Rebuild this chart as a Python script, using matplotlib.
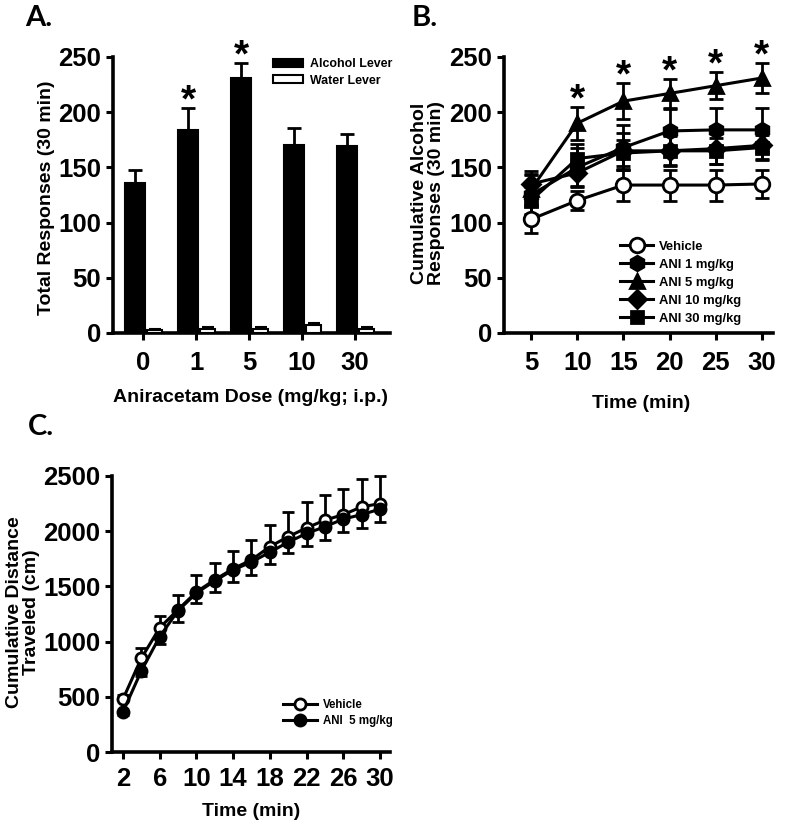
import matplotlib
matplotlib.use("Agg")
import matplotlib.pyplot as plt
from matplotlib.patches import Patch
from matplotlib.lines import Line2D
import numpy as np

# ---------------- data ----------------
doses = ["0", "1", "5", "10", "30"]
alcohol_mean = [136, 184, 231, 170, 169]
alcohol_sem = [12, 20, 14, 16, 11]
water_mean = [3, 4, 4, 7, 4]
water_sem = [1, 1.5, 1.5, 2, 1]
sig_A = [False, True, True, False, False]

time_B = [5, 10, 15, 20, 25, 30]
veh_B = [103, 120, 134, 134, 134, 135]
veh_B_sem = [12, 9, 14, 14, 14, 13]
ani1_B = [125, 150, 168, 183, 184, 184]
ani1_B_sem = [18, 18, 20, 20, 20, 20]
ani5_B = [130, 190, 210, 217, 224, 231]
ani5_B_sem = [14, 15, 16, 13, 12, 14]
ani10_B = [135, 145, 165, 165, 167, 170]
ani10_B_sem = [12, 12, 16, 14, 14, 12]
ani30_B = [120, 158, 163, 165, 165, 168]
ani30_B_sem = [12, 13, 12, 13, 12, 11]
sig_B = [False, True, True, True, True, True]

time_C = [2, 4, 6, 8, 10, 12, 14, 16, 18, 20, 22, 24, 26, 28, 30]
veh_C = [480, 850, 1125, 1290, 1450, 1560, 1660, 1740, 1860, 1950, 2030, 2100, 2150, 2220, 2250]
veh_C_sem = [40, 90, 110, 130, 150, 150, 160, 180, 200, 220, 230, 230, 230, 250, 250]
ani_C = [365, 735, 1045, 1280, 1440, 1550, 1650, 1720, 1810, 1900, 1980, 2040, 2110, 2150, 2200]
ani_C_sem = [30, 50, 70, 100, 90, 100, 110, 120, 110, 100, 110, 120, 120, 120, 120]

# ---------------- style ----------------
plt.rcParams['font.family'] = ['Liberation Sans', 'DejaVu Sans']
plt.rcParams['font.weight'] = 'bold'
W, H = 790, 826
fig = plt.figure(figsize=(W / 100, H / 100), dpi=100)

TICK_FS = 18.5
LAB_FS = 14
SPINE_LW = 2.6
STAR_FS = 28


def fx(px):
    return px / W


def fy(py):
    return 1 - py / H


def style_axes(ax):
    for s in ['top', 'right']:
        ax.spines[s].set_visible(False)
    for s in ['left', 'bottom']:
        ax.spines[s].set_linewidth(SPINE_LW)
    ax.tick_params(width=2.2, length=5, labelsize=TICK_FS, direction='out')
    for lab in ax.get_xticklabels() + ax.get_yticklabels():
        lab.set_fontweight('bold')


def star(ax, xv, yv):
    # asterisk centred ~15 px above the error-bar top
    ax.annotate('*', xy=(xv, yv), xytext=(0, -2.5), textcoords='offset points',
                ha='center', va='baseline', fontsize=STAR_FS, fontweight='bold',
                annotation_clip=False)


# ---------------- panel A ----------------
axA = fig.add_axes([fx(113), fy(333), fx(390 - 113), (333 - 57) / H])
x = np.arange(len(doses))
axA.bar(x - 0.15, alcohol_mean, width=0.38, color='black', edgecolor='black',
        linewidth=1.5, zorder=3)
axA.errorbar(x - 0.15, alcohol_mean, yerr=[np.zeros(len(x)), alcohol_sem], fmt='none',
             ecolor='black', elinewidth=2, capsize=5, capthick=2, zorder=2, clip_on=False)
axA.bar(x + 0.22, water_mean, width=0.28, color='white', edgecolor='black',
        linewidth=1.5, zorder=3)
axA.errorbar(x + 0.22, water_mean, yerr=[np.zeros(len(x)), water_sem], fmt='none',
             ecolor='black', elinewidth=1.5, capsize=4, capthick=1.5, zorder=2)
for xi, m, e, s in zip(x, alcohol_mean, alcohol_sem, sig_A):
    if s:
        star(axA, xi - 0.15, m + e)
axA.set_xlim(-0.57, 4.66)
axA.set_ylim(0, 250)
axA.set_xticks(x)
axA.set_xticklabels(doses)
axA.set_yticks([0, 50, 100, 150, 200, 250])
style_axes(axA)
axA.tick_params(axis='x', pad=8)
axA.legend(handles=[Patch(facecolor='black', edgecolor='black', linewidth=1.5),
                    Patch(facecolor='white', edgecolor='black', linewidth=1.5)],
           labels=['Alcohol Lever', 'Water Lever'],
           loc='upper left', bbox_to_anchor=(fx(267), fy(52)),
           bbox_transform=fig.transFigure, frameon=False, borderpad=0,
           handlelength=2.4, handleheight=0.65, handletextpad=0.6,
           labelspacing=0.35, prop={'size': 8.9, 'weight': 'bold'})
fig.text(fx(47), fy(198), 'Total Responses (30 min)', rotation=90, ha='center',
         va='center', fontsize=LAB_FS, fontweight='bold')
fig.text(fx(250), fy(398), 'Aniracetam Dose (mg/kg; i.p.)', ha='center', va='center',
         fontsize=LAB_FS, fontweight='bold')

# ---------------- panel B ----------------
axB = fig.add_axes([fx(504), fy(333), fx(773 - 504), (333 - 57) / H])
ms = 10.5
series = [
    (veh_B, veh_B_sem, 'o', 'white', 'Vehicle'),
    (ani1_B, ani1_B_sem, 'h', 'black', 'ANI 1 mg/kg'),
    (ani10_B, ani10_B_sem, 'D', 'black', 'ANI 10 mg/kg'),
    (ani30_B, ani30_B_sem, 's', 'black', 'ANI 30 mg/kg'),
    (ani5_B, ani5_B_sem, '^', 'black', 'ANI 5 mg/kg'),
]
for vals, sem, mk, fc, lab in series:
    msz = ms * (0.85 if mk in ('D', 's') else 1.0)
    axB.errorbar(time_B, vals, yerr=sem, fmt='-', color='black', lw=2.2,
                 marker=mk, markersize=msz, markerfacecolor=fc, markeredgecolor='black',
                 markeredgewidth=2, ecolor='black', elinewidth=2, capsize=5, capthick=2,
                 clip_on=False, zorder=3)
for t, v, e, s in zip(time_B, ani5_B, ani5_B_sem, sig_B):
    if s:
        star(axB, t, v + e)
axB.set_xlim(2.07, 31.2)
axB.set_ylim(0, 250)
axB.set_xticks(time_B)
axB.set_yticks([0, 50, 100, 150, 200, 250])
style_axes(axB)
axB.tick_params(axis='x', pad=8)
order = [0, 1, 4, 2, 3]
handles = [Line2D([], [], color='black', lw=2.2, marker=series[i][2],
                  markersize=ms * (0.85 if series[i][2] in ('D', 's') else 1.0),
                  markerfacecolor=series[i][3], markeredgecolor='black', markeredgewidth=2)
           for i in order]
labels = [series[i][4] for i in order]
axB.legend(handles=handles, labels=labels, loc='upper left',
           bbox_to_anchor=(fx(613), fy(234)), bbox_transform=fig.transFigure,
           frameon=False, borderpad=0, handlelength=2.6, handletextpad=0.4,
           labelspacing=0.45, prop={'size': 9.4, 'weight': 'bold'})
fig.text(fx(428), fy(193), 'Cumulative Alcohol\nResponses (30 min)', rotation=90,
         ha='center', va='center', fontsize=LAB_FS, fontweight='bold', linespacing=1.05)
fig.text(fx(641), fy(403), 'Time (min)', ha='center', va='center',
         fontsize=LAB_FS, fontweight='bold')

# ---------------- panel C ----------------
axC = fig.add_axes([fx(112), fy(752), fx(390 - 112), (752 - 476) / H])
axC.errorbar(time_C, veh_C, yerr=[np.zeros(len(time_C)), veh_C_sem], fmt='-', color='black',
             lw=2.2, marker='o', markersize=8, markerfacecolor='white',
             markeredgecolor='black', markeredgewidth=2, ecolor='black', elinewidth=2,
             capsize=4.5, capthick=2, clip_on=False, zorder=3)
axC.errorbar(time_C, ani_C, yerr=[ani_C_sem, np.zeros(len(time_C))], fmt='-', color='black',
             lw=2.2, marker='o', markersize=8, markerfacecolor='black',
             markeredgecolor='black', markeredgewidth=2, ecolor='black', elinewidth=2,
             capsize=4.5, capthick=2, clip_on=False, zorder=4)
axC.set_xlim(0.8, 31.1)
axC.set_ylim(0, 2500)
axC.set_xticks([2, 6, 10, 14, 18, 22, 26, 30])
axC.set_yticks([0, 500, 1000, 1500, 2000, 2500])
style_axes(axC)
axC.tick_params(axis='x', pad=6)
hC = [Line2D([], [], color='black', lw=2.2, marker='o', markersize=8,
             markerfacecolor='white', markeredgecolor='black', markeredgewidth=2),
      Line2D([], [], color='black', lw=2.2, marker='o', markersize=8,
             markerfacecolor='black', markeredgecolor='black', markeredgewidth=2)]
axC.legend(handles=hC, labels=['Vehicle', 'ANI  5 mg/kg'], loc='upper left',
           bbox_to_anchor=(fx(277), fy(693)), bbox_transform=fig.transFigure,
           frameon=False, borderpad=0, handlelength=3.0, handletextpad=0.45,
           labelspacing=0.35, prop={'size': 8.3, 'weight': 'bold'})
fig.text(fx(23), fy(612), 'Cumulative Distance\nTraveled (cm)', rotation=90,
         ha='center', va='center', fontsize=LAB_FS, fontweight='bold', linespacing=1.05)
fig.text(fx(251), fy(812), 'Time (min)', ha='center', va='center',
         fontsize=LAB_FS, fontweight='bold')

# ---------------- panel letters ----------------
for lbl, px, py in [('A.', 39, 18), ('B.', 425, 18), ('C.', 41, 427)]:
    fig.text(fx(px), fy(py), lbl, ha='center', va='center', fontsize=21,
             fontweight='bold', family=['Lato', 'DejaVu Sans'])

fig.savefig('out.png', dpi=100)
